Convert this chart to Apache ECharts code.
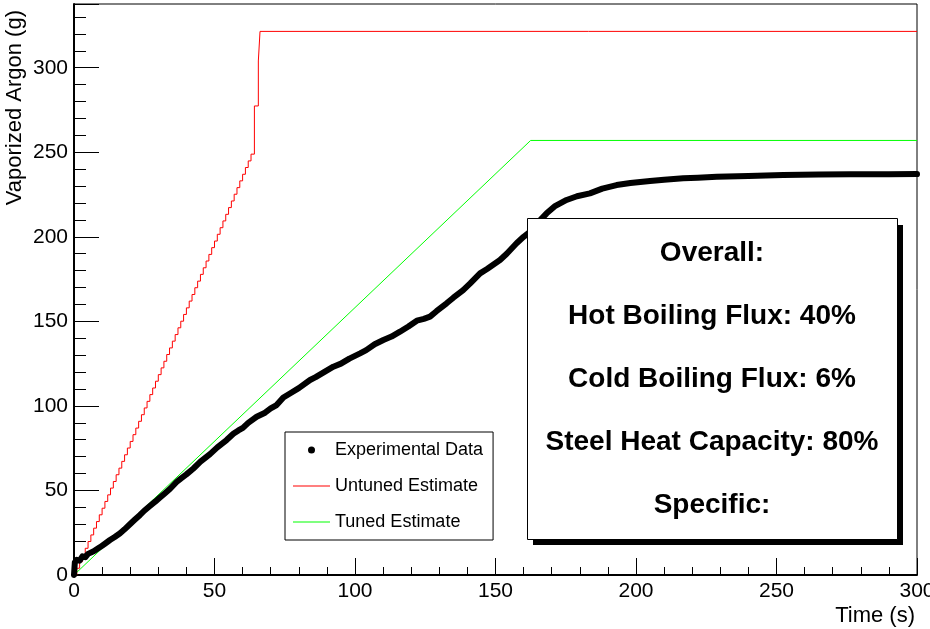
<!DOCTYPE html>
<html>
<head>
<meta charset="utf-8">
<script src="https://cdn.jsdelivr.net/npm/echarts@6/dist/echarts.min.js"></script>
<style>
html,body{margin:0;padding:0;background:#fff;}
#chart{width:930px;height:629px;}
</style>
</head>
<body>
<div id="chart"></div>
<script>
// ---- Data ----
const expTime = [0, 0.3, 1, 2, 3, 4, 5, 7, 9.3, 11, 12.8, 14.5, 16.4, 18, 19.9, 21.5, 23.5, 25, 27, 29, 30.6, 32.5, 34.2, 36.5, 38, 40, 42.5, 45, 48.4, 51, 54.3, 56.7, 58.5, 60.1, 62, 65, 68, 70, 72.1, 74.5, 77, 80, 84, 86, 89, 92.3, 95, 98, 101.8, 104, 107, 110.1, 113, 116, 119, 122, 124.5, 126.7, 129, 132.6, 135, 138.5, 141, 144.5, 147, 151.6, 154, 157.5, 160, 163.5, 166, 168.2, 171, 175.3, 179, 183.6, 188, 193.1, 198, 205, 210, 216.8, 222, 228.7, 240, 252.4, 265, 276.2, 290, 300];
const expMass = [0, 7.5, 9, 8.5, 11, 10.5, 12.5, 14, 16.5, 18.5, 20.7, 22.5, 24.7, 27, 30, 32.5, 35.5, 38, 40.8, 43.5, 45.8, 48.5, 51, 55, 57, 59.5, 63, 67, 71.5, 75.5, 79.8, 83.5, 85.5, 87, 90, 93.6, 96, 98.5, 100.5, 105, 107.5, 110.5, 115.3, 117, 120, 123.2, 125, 128, 131.1, 133, 136.5, 139, 141, 143.9, 147, 150.4, 151.5, 152.8, 156, 160.7, 164, 168.5, 172.5, 178.4, 181, 186.3, 190, 196.2, 200, 204.5, 210, 213.9, 218, 221.8, 224, 225.7, 228.5, 230.6, 231.8, 233, 233.8, 234.6, 235, 235.5, 236, 236.5, 236.8, 237, 237, 237.1];

const untunedTime = [0, 1, 2, 3, 4, 5, 6, 7, 8, 9, 10, 11, 12, 13, 14, 15, 16, 17, 18, 19, 20, 21, 22, 23, 24, 25, 26, 27, 28, 29, 30, 31, 32, 33, 34, 35, 36, 37, 38, 39, 40, 41, 42, 43, 44, 45, 46, 47, 48, 49, 50, 51, 52, 53, 54, 55, 56, 57, 58, 59, 60, 61, 62, 63, 64.2, 65.6, 66.2, 300];
const untunedMass = [0, 4.0, 7.9, 11.9, 15.8, 19.8, 23.7, 27.7, 31.6, 35.6, 39.5, 43.5, 47.4, 51.4, 55.3, 59.3, 63.2, 67.2, 71.1, 75.1, 79.0, 83.0, 86.9, 90.9, 94.8, 98.8, 102.7, 106.7, 110.6, 114.6, 118.5, 122.5, 126.4, 130.4, 134.3, 138.3, 142.2, 146.2, 150.1, 154.1, 158.0, 162.0, 165.9, 169.9, 173.8, 177.8, 181.7, 185.7, 189.6, 193.6, 197.5, 201.5, 205.4, 209.4, 213.3, 217.3, 221.2, 225.2, 229.1, 233.1, 237.0, 241.0, 244.9, 248.9, 277.4, 304.0, 321.5, 321.5];

const tunedTime = [0, 162.5, 300];
const tunedMass = [0, 257, 257];

const seriesNames = ['Experimental Data', 'Untuned Estimate', 'Tuned Estimate'];
const boxLines = ['Overall:', 'Hot Boiling Flux: 40%', 'Cold Boiling Flux: 6%', 'Steel Heat Capacity: 80%', 'Specific:'];
const xTitle = 'Time (s)';
const yTitle = 'Vaporized Argon (g)';

// ---- Chart ----
const FONT = "'Liberation Sans', Arial, Helvetica, sans-serif";
const LINE_ICON = 'path://M0,0L37,0L37,1L0,1Z';
const zip = (a, b) => a.map((v, i) => [v, b[i]]);
const chart = echarts.init(document.getElementById('chart'), null, {renderer: 'canvas'});

const boxGraphics = [
  {type: 'rect', left: 533, top: 225, shape: {width: 370, height: 320}, style: {fill: '#000'}, z: 100},
  {type: 'rect', left: 527, top: 218, shape: {width: 370, height: 321}, style: {fill: '#fff', stroke: '#000', lineWidth: 1}, z: 101}
];
boxLines.forEach((t, i) => {
  boxGraphics.push({
    type: 'text', x: 712, y: 253 + i * 63, z: 102,
    style: {text: t, fontFamily: FONT, fontSize: 28, fontWeight: 'bold', fill: '#000', align: 'center', verticalAlign: 'middle'}
  });
});
boxGraphics.push({
  type: 'text', x: 15, y: 10, rotation: Math.PI / 2, z: 50,
  style: {text: yTitle, fontFamily: FONT, fontSize: 22, fill: '#000', align: 'right', verticalAlign: 'middle'}
});

const option = {
  animation: false,
  backgroundColor: '#fff',
  grid: {left: 74, right: 13, top: 4, bottom: 54, containLabel: false, outerBoundsMode: 'none',
    show: true, borderColor: '#000', borderWidth: 1, backgroundColor: 'transparent'},
  legend: {
    orient: 'vertical', left: 285, top: 432,
    padding: [9, 10, 9, 8], itemGap: 18, itemWidth: 37, itemHeight: 7,
    borderColor: '#000', borderWidth: 1, backgroundColor: '#fff',
    textStyle: {fontFamily: FONT, fontSize: 18, color: '#000'},
    selectedMode: false, symbolKeepAspect: true,
    data: [{name: seriesNames[0], icon: 'circle'}, {name: seriesNames[1], icon: LINE_ICON}, {name: seriesNames[2], icon: LINE_ICON}],
    z: 60
  },
  xAxis: [
    {
      type: 'value', min: 0, max: 300, interval: 50,
      name: xTitle, nameLocation: 'end', nameGap: -2,
      nameTextStyle: {fontFamily: FONT, fontSize: 22, color: '#000', align: 'right', verticalAlign: 'top', padding: [30, 0, 0, 0]},
      axisLine: {show: true, onZero: false, lineStyle: {color: '#000', width: 2}},
      axisTick: {show: true, inside: true, length: 17, lineStyle: {color: '#000', width: 1}},
      axisLabel: {show: true, margin: 6, fontFamily: FONT, fontSize: 21, color: '#000', showMaxLabel: true, showMinLabel: true, hideOverlap: false},
      splitLine: {show: false}
    },
    {
      type: 'value', min: 0, max: 300, interval: 10, position: 'bottom',
      axisLine: {show: false},
      axisTick: {show: true, inside: true, length: 8, lineStyle: {color: '#000', width: 1}},
      axisLabel: {show: false},
      splitLine: {show: false}
    }
  ],
  yAxis: [
    {
      type: 'value', min: 0, max: 337.7, interval: 50,
      axisLine: {show: true, onZero: false, lineStyle: {color: '#000', width: 2}},
      axisTick: {show: true, inside: true, length: 25, lineStyle: {color: '#000', width: 1}},
      axisLabel: {show: true, margin: 6, fontFamily: FONT, fontSize: 21, color: '#000',
        formatter: v => (Math.abs(v % 50) < 1e-6 ? String(v) : '')},
      splitLine: {show: false}
    },
    {
      type: 'value', min: 0, max: 337.7, interval: 10, position: 'left',
      axisLine: {show: false},
      axisTick: {show: true, inside: true, length: 12, lineStyle: {color: '#000', width: 1}},
      axisLabel: {show: false},
      splitLine: {show: false}
    }
  ],
  series: [
    {
      name: seriesNames[1], type: 'line', xAxisIndex: 0, yAxisIndex: 0,
      data: zip(untunedTime, untunedMass), step: 'end', symbol: 'none',
      color: '#ff0000', itemStyle: {color: '#ff0000'}, lineStyle: {color: '#ff0000', width: 1}, z: 2
    },
    {
      name: seriesNames[2], type: 'line', xAxisIndex: 0, yAxisIndex: 0,
      data: zip(tunedTime, tunedMass), symbol: 'none',
      color: '#00ff00', itemStyle: {color: '#00ff00'}, lineStyle: {color: '#00ff00', width: 1}, z: 3
    },
    {
      name: seriesNames[0], type: 'line', xAxisIndex: 0, yAxisIndex: 0,
      data: zip(expTime, expMass), symbol: 'none', smooth: false,
      color: '#000', itemStyle: {color: '#000'},
      lineStyle: {color: '#000', width: 6, cap: 'round', join: 'round'}, z: 4
    }
  ],
  graphic: boxGraphics
};
chart.setOption(option);
</script>
</body>
</html>
